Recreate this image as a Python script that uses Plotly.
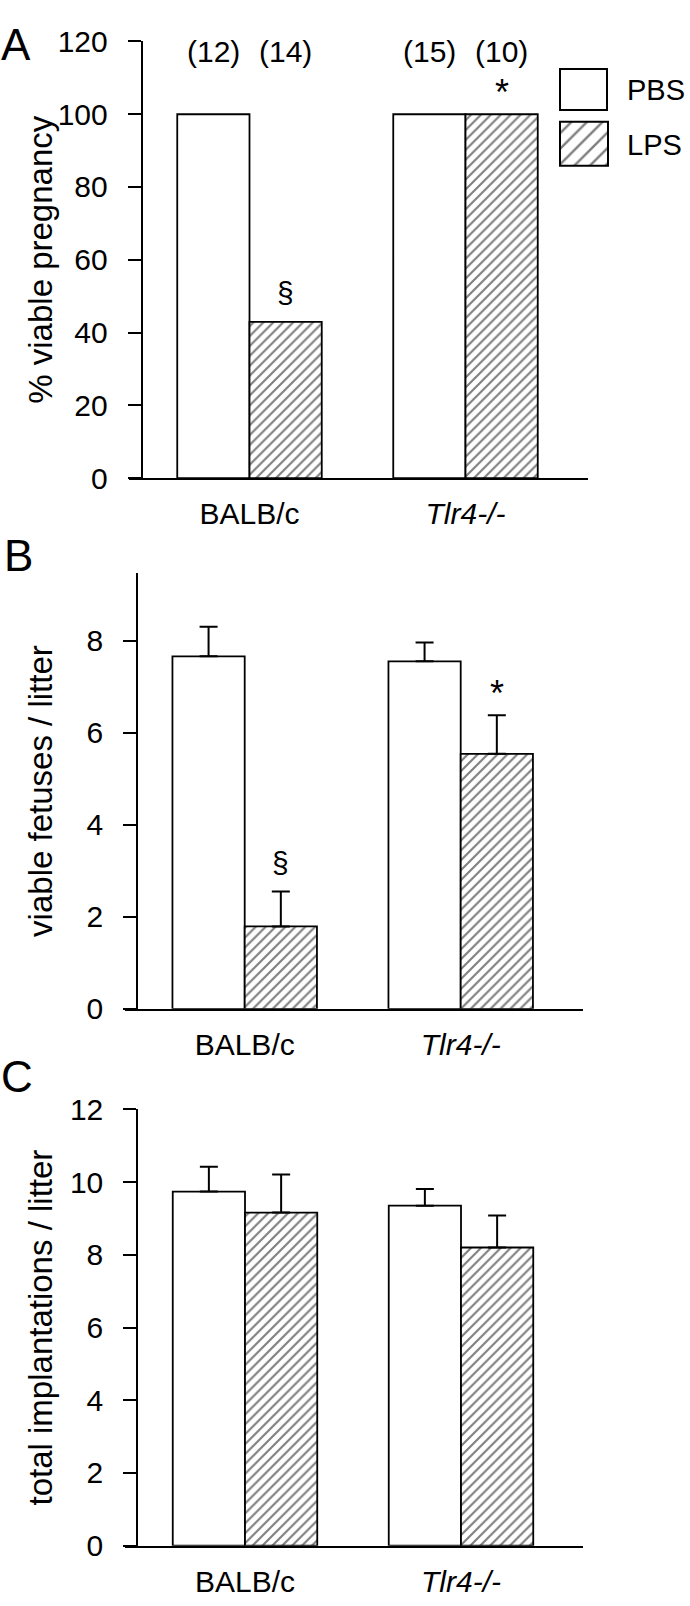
import plotly.graph_objects as go

W, H = 690, 1606

groups = ["BALB/c", "Tlr4-/-"]
group_labels = ["BALB/c", "<i>Tlr4-/-</i>"]
treatments = ["PBS", "LPS"]

# A: % viable pregnancy (n per group above bars)
pregnancy_pbs = [100, 100]
pregnancy_lps = [42.9, 100]
n_pbs = ["(12)", "(15)"]
n_lps = ["(14)", "(10)"]
pregnancy_marks = ["§", "*"]

# B: viable fetuses / litter (mean + SEM)
fetuses_pbs = [7.66, 7.55]
fetuses_pbs_err = [0.64, 0.41]
fetuses_lps = [1.79, 5.54]
fetuses_lps_err = [0.76, 0.84]
fetuses_marks = ["§", "*"]

# C: total implantations / litter (mean + SEM)
implant_pbs = [9.74, 9.35]
implant_pbs_err = [0.68, 0.46]
implant_lps = [9.16, 8.20]
implant_lps_err = [1.05, 0.88]

yticks_a = [0, 20, 40, 60, 80, 100, 120]
yticks_b = [0, 2, 4, 6, 8]
yticks_c = [0, 2, 4, 6, 8, 10, 12]

FONT = "Liberation Sans, Arial, sans-serif"
BARGAP = 0.331
HALF = (1 - BARGAP) / 4  # bar centre offset inside a group
GROUP_PX = 216.0         # px between group centres


def fx(px):
    return px / W


def fy(px):
    return 1 - px / H


def hatch(size, solidity=0.3):
    return dict(shape="/", size=size, solidity=solidity, fgcolor="black", bgcolor="white")


panels = [
    dict(letter="A", letter_xy=(16, 28), ytitle="% viable pregnancy",
         pbs=pregnancy_pbs, lps=pregnancy_lps, pbs_err=None, lps_err=None,
         marks=pregnancy_marks, yticks=yticks_a, ytop=120,
         top=25, bottom=471, left=128.5, axis=141.7, right=587.5, centre=249.5),
    dict(letter="B", letter_xy=(18, 550), ytitle="viable fetuses / litter",
         pbs=fetuses_pbs, lps=fetuses_lps, pbs_err=fetuses_pbs_err, lps_err=fetuses_lps_err,
         marks=fetuses_marks, yticks=yticks_b, ytop=9.47,
         top=568, bottom=1013.3, left=124.5, axis=137.3, right=583, centre=244.7),
    dict(letter="C", letter_xy=(17, 1082), ytitle="total implantations / litter",
         pbs=implant_pbs, lps=implant_lps, pbs_err=implant_pbs_err, lps_err=implant_lps_err,
         marks=None, yticks=yticks_c, ytop=12,
         top=1116, bottom=1561.7, left=124.5, axis=137.3, right=583, centre=245),
]

fig = go.Figure()
annotations = []
layout = {}

for i, p in enumerate(panels):
    sfx = "" if i == 0 else str(i + 1)
    xa, ya = "x" + sfx, "y" + sfx
    for name, vals, err in [("PBS", p["pbs"], p["pbs_err"]), ("LPS", p["lps"], p["lps_err"])]:
        marker = dict(color="white", line=dict(color="black", width=1.8))
        if name == "LPS":
            marker["pattern"] = hatch(7)
        bar = go.Bar(x=groups, y=vals, name=name, marker=marker, xaxis=xa, yaxis=ya,
                     showlegend=False, hoverinfo="skip")
        if err is not None:
            bar.error_y = dict(type="data", array=err, arrayminus=[0] * len(err), symmetric=False,
                               color="black", thickness=2, width=9)
        fig.add_trace(bar)

    x0 = (p["left"] - p["centre"]) / GROUP_PX
    x1 = (p["right"] - p["centre"]) / GROUP_PX
    layout["xaxis" + sfx] = dict(
        domain=[fx(p["left"]), fx(p["right"])], anchor=ya, range=[x0, x1],
        showline=True, linecolor="black", linewidth=2, ticks="", showgrid=False, zeroline=False,
        tickvals=groups, ticktext=group_labels, tickfont=dict(family=FONT, size=30, color="black"),
        ticklabelstandoff=8, fixedrange=True)
    layout["yaxis" + sfx] = dict(
        domain=[fy(p["bottom"]), fy(p["top"])], anchor="free", position=fx(p["axis"]),
        range=[0, p["ytop"]], tickvals=p["yticks"], ticks="outside", ticklen=13, tickwidth=2,
        tickcolor="black", showline=True, linecolor="black", linewidth=2, showgrid=False,
        zeroline=False, tickfont=dict(family=FONT, size=30, color="black"),
        ticklabelstandoff=14, fixedrange=True)

    # panel letter and y title
    lx, ly = p["letter_xy"]
    annotations.append(dict(text=p["letter"], x=fx(lx), y=fy(ly), xref="paper", yref="paper",
                            xanchor="center", yanchor="middle", showarrow=False,
                            font=dict(family=FONT, size=44, color="black")))
    annotations.append(dict(text=p["ytitle"], x=fx(41), y=fy((p["top"] + p["bottom"]) / 2),
                            xref="paper", yref="paper", xanchor="center", yanchor="middle",
                            textangle=-90, showarrow=False,
                            font=dict(family=FONT, size=33, color="black")))

    # significance marks above LPS bars
    if p["marks"]:
        for g, mark in enumerate(p["marks"]):
            top = p["lps"][g] + (p["lps_err"][g] if p["lps_err"] else 0)
            star = mark == "*"
            annotations.append(dict(text=mark, x=g + HALF, y=top, xref=xa, yref=ya,
                                    xanchor="center", yanchor="middle",
                                    yshift=22 if star else 29, showarrow=False,
                                    font=dict(family=FONT, size=36 if star else 30, color="black")))

# group sizes above panel A
for g in range(len(groups)):
    for off, lab in [(-HALF, n_pbs[g]), (HALF, n_lps[g])]:
        annotations.append(dict(text=lab, x=g + off, y=117.3, xref="x", yref="y",
                                xanchor="center", yanchor="middle",
                                showarrow=False, font=dict(family=FONT, size=30, color="black")))

# legend swatches, each drawn as a single bar filling a small axis
legend_boxes = [(560, 607, 53, 95), (560, 608, 107, 152)]
for k, (name, (bx0, bx1, by0, by1)) in enumerate(zip(treatments, legend_boxes)):
    sfx = str(4 + k)
    pad = 2
    ux = 1 / (bx1 - bx0)
    uy = 1 / (by1 - by0)
    marker = dict(color="white", line=dict(color="black", width=2))
    if name == "LPS":
        marker["pattern"] = hatch(11, 0.22)
    fig.add_trace(go.Bar(x=[0], y=[1], width=[1], marker=marker, xaxis="x" + sfx, yaxis="y" + sfx,
                         showlegend=False, hoverinfo="skip"))
    layout["xaxis" + sfx] = dict(domain=[fx(bx0 - pad), fx(bx1 + pad)], anchor="y" + sfx,
                                 range=[-0.5 - pad * ux, 0.5 + pad * ux], visible=False, fixedrange=True)
    layout["yaxis" + sfx] = dict(domain=[fy(by1 + pad), fy(by0 - pad)], anchor="x" + sfx,
                                 range=[-pad * uy, 1 + pad * uy], visible=False, fixedrange=True)
    annotations.append(dict(text=name, x=fx(625), y=fy((by0 + by1) / 2 + 1), xref="paper", yref="paper",
                            xanchor="left", yanchor="middle", showarrow=False,
                            font=dict(family=FONT, size=29, color="black")))

fig.update_layout(
    width=W, height=H,
    margin=dict(l=0, r=0, t=0, b=0),
    paper_bgcolor="white", plot_bgcolor="white",
    barmode="group", bargap=BARGAP, bargroupgap=0,
    annotations=annotations,
    showlegend=False,
    **layout,
)

# the page's default body margin would push the figure 8 px right/down
fig.write_html("out.html", config={"displayModeBar": False},
               post_script="document.body.style.margin = '0';")
